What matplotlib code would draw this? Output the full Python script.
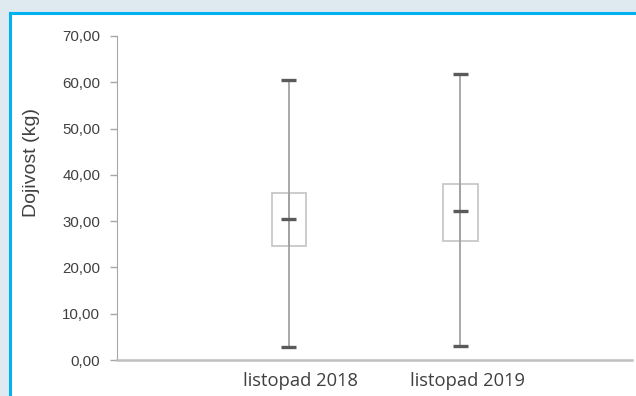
import matplotlib
matplotlib.use("Agg")
import matplotlib.pyplot as plt
import matplotlib.transforms as mtransforms
from matplotlib.patches import Rectangle
from matplotlib.lines import Line2D

categories = ["listopad 2018", "listopad 2019"]
minimum = [2.9, 3.1]
q1 = [24.7, 25.8]
median = [30.4, 32.2]
q3 = [36.0, 38.1]
maximum = [60.6, 61.8]
yticks = [0, 10, 20, 30, 40, 50, 60, 70]

W, H = 636, 396
fig = plt.figure(figsize=(W / 100, H / 100), dpi=100)
fig.patch.set_facecolor("#dfe9f0")

# white panel with blue border (top and left)
fig.patches.append(Rectangle((10 / W, 0), 1, 1 - 12 / H, transform=fig.transFigure,
                             facecolor="white", edgecolor="none", zorder=-10))
fig.lines.append(Line2D([9.5 / W, 9.5 / W], [0, 1 - 12.5 / H], transform=fig.transFigure,
                        color="#00b0f0", lw=2.2, zorder=-5))
fig.lines.append(Line2D([9.5 / W, 1], [1 - 12.5 / H, 1 - 12.5 / H], transform=fig.transFigure,
                        color="#00b0f0", lw=2.2, zorder=-5))

ax = fig.add_axes([117 / W, 1 - 360 / H, (632 - 117) / W, (360 - 36) / H])
ax.set_facecolor("none")
ax.set_zorder(5)

pos = [1, 2]
bw = 0.2
capw = 0.044
for i, x in enumerate(pos):
    ax.vlines(x, minimum[i], maximum[i], color="#a3a3a3", lw=1.3, zorder=2)
    ax.add_patch(Rectangle((x - bw / 2, q1[i]), bw, q3[i] - q1[i], facecolor="white",
                           edgecolor="#c8c8c8", lw=1.3, zorder=1))
    ax.vlines(x, q1[i], q3[i], color="#a3a3a3", lw=1.3, zorder=2)
    for v in (minimum[i], maximum[i], median[i]):
        ax.hlines(v, x - capw, x + capw, color="#5a5a5a", lw=2.4, zorder=3)

ax.set_xlim(0, 3)
ax.set_ylim(0, 70)
ax.set_yticks(yticks)
ax.set_yticklabels([f"{v:.2f}".replace(".", ",") for v in yticks],
                   fontsize=10.8, family="Liberation Sans", color="#404040")
ax.set_xticks(pos)
ax.set_xticklabels(categories, fontsize=13.2, family="Open Sans", color="#404040")
ax.tick_params(axis="x", length=0, pad=9)
ax.tick_params(axis="y", length=5, width=1, color="#a6a6a6", pad=7)
# labels sit slightly right of the box centres in the original
for lbl, dx in zip(ax.get_xticklabels(), [12, 7]):
    lbl.set_transform(lbl.get_transform() + mtransforms.ScaledTranslation(dx / 100, 0, fig.dpi_scale_trans))
for s in ("top", "right"):
    ax.spines[s].set_visible(False)
ax.spines["left"].set_color("#a6a6a6")
ax.spines["bottom"].set_color("#bfbfbf")
ax.spines["bottom"].set_linewidth(1.8)
ax.set_ylabel("Dojivost (kg)", fontsize=14, family="Liberation Sans", color="#404040")
ax.yaxis.set_label_coords(-77 / (632 - 117), (360 - 163) / 324)

fig.savefig("out.png", dpi=100, facecolor=fig.get_facecolor())
